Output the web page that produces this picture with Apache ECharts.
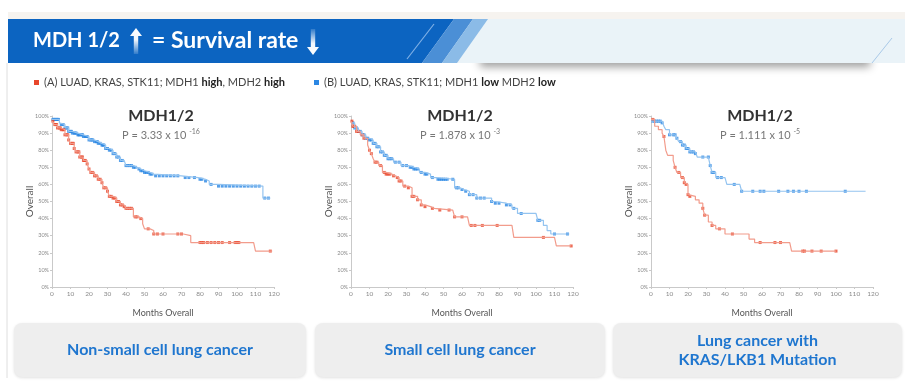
<!DOCTYPE html>
<html><head><meta charset="utf-8">
<script src="https://cdn.jsdelivr.net/npm/echarts@6/dist/echarts.min.js"></script>
<style>html,body{margin:0;padding:0;background:#fff}#c{width:905px;height:390px}</style>
</head><body><div id="c"></div>
<script>
// ---------- DATA ----------
const xTickValues = [0, 10, 20, 30, 40, 50, 60, 70, 80, 90, 100, 110, 120];
const yTickValues = [0, 10, 20, 30, 40, 50, 60, 70, 80, 90, 100];
const panelTitles = ['MDH1/2', 'MDH1/2', 'MDH1/2'];
const pMantissa = ['3.33', '1.878', '1.111'];
const pExponent = ['-16', '-3', '-5'];
const cancerTypes = ['Non-small cell lung cancer', 'Small cell lung cancer', 'Lung cancer with\nKRAS/LKB1 Mutation'];
const groupA = '(A) LUAD, KRAS, STK11; MDH1 {b|high}, MDH2 {b|high}';
const groupB = '(B) LUAD, KRAS, STK11; MDH1 {b|low} MDH2 {b|low}';

// Panel 1: Non-small cell lung cancer  [month, survival %]
const nsclcHighSteps = [[0,97],[1,95],[3,93],[5,92],[7,89],[9,86],[10,84],[12,81],[13,79],[15,76],[17,74],[19,72],[20,69],[21,67],[23,65],[25,63],[27,61],[28,58],[30,56],[31,53],[33,52],[35,50],[37,48],[39,47],[40,46],[44,41],[47,40],[49,37],[50,34],[53,33],[55,31],[71,31],[72,30],[75,26],[109,26],[110,21],[119,21]];
const nsclcHighCensor = [0.5,1.5,2,2.5,3,4,4.5,5,6,6.5,7,8,8.5,9,10,11,11.5,12,13,14,14.5,15,16,16.5,17,17.5,18,19,20,21,22,23,24,25,26,27,28,29,30,31,32,33,34,35,36,37,38,39,40,41,42,43,45,46,48,52,55,57,60,68,70,80,81,82,84,86,88,90,92,96,99,100,101,118];
const nsclcLowSteps = [[0,98],[4,96],[5,95],[7,93],[9,91],[11,90],[14,89],[17,88],[20,86],[23,85],[25,84],[27,83],[29,81],[31,80],[33,78],[35,76],[37,74],[39,73],[40,71],[44,70],[46,69],[48,68],[50,67],[53,66],[55,65],[70,64],[79,63],[83,62],[85,60],[90,59],[114,52],[118,52]];
const nsclcLowCensor = [0.5,1,1.5,2,2.5,3,3.5,5,6,7,8,8.5,9,10,10.5,11,12,12.5,13,14,14.5,15,16,16.5,17,18,18.5,19,20,21,21.5,22,23,24,24.5,25,26,27,27.5,28,29,30,31,32,33,34,35,36,37,38,40,41,42,43,44,45,47,48,49,50,51,52,53,54,56,58,60,62,64,66,68,72,74,77,80,81,83,86,90,92,94,96,98,100,102,104,106,108,110,112,115,117];

// Panel 2: Small cell lung cancer
const sclcHighSteps = [[0,97],[1,94],[3,91],[5,89],[7,87],[9,83],[10,80],[11,78],[12,75],[13,73],[15,71],[17,67],[19,66],[22,65],[24,64],[26,62],[28,59],[31,58],[33,53],[36,51],[38,48],[40,47],[43,46],[45,45],[55,45],[56,41],[63,41],[64,36],[87,36],[88,29],[110,29],[111,24],[119,24]];
const sclcHighCensor = [0.5,1,1.5,2,3,4,6,7,10,11,13,14,16,18,19,20,21,23,25,26,27,29,31,33,34,36,38,40,44,48,53,56,60,65,67,71,79,104,119];
const sclcLowSteps = [[0,96],[2,93],[4,91],[6,89],[8,87],[10,86],[12,84],[14,82],[16,79],[18,77],[20,75],[23,73],[27,71],[31,70],[34,69],[37,67],[40,66],[43,64],[46,63],[56,58],[59,57],[61,56],[64,54],[68,52],[76,50],[78,49],[84,48],[87,46],[90,43],[100,42],[101,39],[104,36],[106,33],[108,31],[118,31]];
const sclcLowCensor = [1,2,3,4,5,6,7,8,9,10,11,12,13,14,15,16,17,18,19,20,21,22,24,26,28,30,32,33,34,35,36,38,40,41,44,47,48,49,50,51,52,55,57,58,60,62,64,66,68,70,72,76,78,80,84,86,88,92,101,102,110,117];

// Panel 3: Lung cancer with KRAS/LKB1 mutation
const krasHighSteps = [[0,98],[2,94],[4,92],[6,90],[7,88],[8,80],[9,77],[12,74],[13,70],[14,67],[16,64],[18,61],[19,60],[20,54],[21,53],[24,51],[26,49],[28,46],[29,42],[31,38],[33,36],[35,34],[40,31],[51,31],[53,28],[56,26],[75,26],[76,21],[100,21]];
const krasHighCensor = [1,7,13,15,17,18,19,20,21,28,29,33,37,44,59,67,70,82,83,87,92,100];
const krasLowSteps = [[0,97],[6,96],[7,94],[8,92],[10,89],[13,89],[14,87],[15,85],[17,83],[19,81],[21,79],[24,78],[25,76],[31,76],[32,71],[33,67],[35,64],[40,63],[41,60],[48,60],[49,56],[116,56]];
const krasLowCensor = [1,2,3,4,5,6,10,12,13,14,16,17,18,19,20,21,22,23,24,28,31,32,33,34,36,38,45,49,55,59,61,69,74,77,80,84,105];

// ---------- STYLE ----------
const FONT = 'Lato, "Open Sans", sans-serif';
const redMark = '#e8462b', redLine = '#f29c8c';
const blueMark = '#2b87e3', blueLine = '#94c4f0';

const panels = [
  { left: 52,  high: nsclcHighSteps, highC: nsclcHighCensor, low: nsclcLowSteps, lowC: nsclcLowCensor },
  { left: 351, high: sclcHighSteps,  highC: sclcHighCensor,  low: sclcLowSteps,  lowC: sclcLowCensor },
  { left: 651, high: krasHighSteps,  highC: krasHighCensor,  low: krasLowSteps,  lowC: krasLowCensor }
];
const GW = 222, GT = 116, GH = 171;

function survivalAt(steps, m) {
  let v = steps[0][1];
  for (const [x, y] of steps) { if (x <= m) v = y; else break; }
  return v;
}

const grid = [], xAxis = [], yAxis = [], series = [], graphic = [];
panels.forEach((p, i) => {
  grid.push({ left: p.left, top: GT, width: GW, height: GH });
  xAxis.push({
    type: 'value', gridIndex: i, min: 0, max: 120, interval: 10,
    name: 'Months Overall', nameLocation: 'middle', nameGap: 22,
    nameTextStyle: { fontFamily: FONT, fontSize: 9, color: '#555' },
    axisLine: { lineStyle: { color: '#c9c9c9' } },
    axisTick: { length: 2, lineStyle: { color: '#c9c9c9' } },
    axisLabel: { fontFamily: FONT, fontSize: 6.5, color: '#8a8a8a', margin: 3,
      formatter: v => xTickValues.includes(v) ? String(v) : '' },
    splitLine: { show: false }
  });
  yAxis.push({
    type: 'value', gridIndex: i, min: 0, max: 100, interval: 10,
    name: 'Overall', nameLocation: 'middle', nameGap: 17, nameMoveOverlap: false,
    nameTextStyle: { fontFamily: FONT, fontSize: 10, color: '#555' },
    axisLine: { show: true, lineStyle: { color: '#c9c9c9' } },
    axisTick: { show: true, length: 2, lineStyle: { color: '#c9c9c9' } },
    axisLabel: { fontFamily: FONT, fontSize: 5.5, color: '#8a8a8a', margin: 3,
      formatter: v => yTickValues.includes(v) ? v + '%' : '' },
    splitLine: { show: false }
  });
  const groups = [
    { name: 'B', steps: p.low, censor: p.lowC, mark: blueMark, line: blueLine },
    { name: 'A', steps: p.high, censor: p.highC, mark: redMark, line: redLine }
  ];
  groups.forEach(g => {
    series.push({
      name: g.name, type: 'line', xAxisIndex: i, yAxisIndex: i, step: 'end',
      data: g.steps, showSymbol: false, silent: true,
      itemStyle: { color: g.mark }, lineStyle: { color: g.line, width: 1.2 }
    });
    series.push({
      name: g.name, type: 'scatter', xAxisIndex: i, yAxisIndex: i,
      data: g.censor.map(m => [m, survivalAt(g.steps, m)]),
      symbol: 'rect', symbolSize: 3, silent: true,
      itemStyle: { color: g.mark }
    });
  });
  const cx = p.left + GW / 2 - 2;
  graphic.push({ type: 'text', x: cx, y: 116, z: 10,
    style: { text: panelTitles[i], align: 'center', verticalAlign: 'middle',
      font: 'bold 16px ' + FONT, fill: '#333' } });
  graphic.push({ type: 'text', x: cx, y: 135, z: 10,
    style: { text: '{n|P = ' + pMantissa[i] + ' x 10 }{s|' + pExponent[i] + '}',
      align: 'center', verticalAlign: 'middle',
      rich: {
        n: { fontFamily: FONT, fontSize: 11, fill: '#777', lineHeight: 14 },
        s: { fontFamily: FONT, fontSize: 7, fill: '#777', lineHeight: 14, verticalAlign: 'top' }
      } } });
});

// Bottom category boxes
const boxes = [[14, 292], [315, 290], [613, 289]];
boxes.forEach((b, i) => {
  graphic.push({ type: 'rect', z: 1,
    shape: { x: b[0], y: 323, width: b[1], height: 54, r: 8 },
    style: { fill: '#eeeeee', shadowBlur: 3, shadowOffsetY: 1, shadowColor: 'rgba(0,0,0,0.12)' } });
  graphic.push({ type: 'text', z: 2, x: b[0] + b[1] / 2, y: 350,
    style: { text: cancerTypes[i], align: 'center', verticalAlign: 'middle',
      font: 'bold 16px ' + FONT, fill: '#1f76cf', lineHeight: 19 } });
});

// Header banner
graphic.push(
  { type: 'rect', z: 0, shape: { x: 8, y: 12, width: 897, height: 7 }, style: { fill: '#f6f3ef' } },
  { type: 'line', z: 0, shape: { x1: 7, y1: 63, x2: 7, y2: 378 }, style: { stroke: '#dedede', lineWidth: 1 } },
  { type: 'rect', z: 1, shape: { x: 480, y: 50, width: 390, height: 13 },
    style: { fill: '#eaf3f8', shadowBlur: 9, shadowOffsetY: 4, shadowColor: 'rgba(0,0,0,0.38)' } },
  { type: 'rect', z: 2, shape: { x: 8, y: 19, width: 897, height: 44 }, style: { fill: '#eaf3f8' } },
  { type: 'polygon', z: 3, shape: { points: [[8,19],[454,19],[422,63],[8,63]] }, style: { fill: '#0c64c1' } },
  { type: 'polygon', z: 3, shape: { points: [[454,19],[473,19],[442,63],[422,63]] }, style: { fill: '#4b8fd6' } },
  { type: 'polygon', z: 3, shape: { points: [[473,19],[488,19],[457,63],[442,63]] }, style: { fill: '#8bbbe7' } },
  { type: 'line', z: 4, shape: { x1: 434, y1: 24, x2: 407, y2: 59 }, style: { stroke: '#7fb0e6', lineWidth: 1.2 } },
  { type: 'line', z: 4, shape: { x1: 892, y1: 38, x2: 872, y2: 63 }, style: { stroke: '#a9c9e8', lineWidth: 1 } },
  { type: 'text', z: 5, x: 33, y: 41,
    style: { text: 'MDH 1/2', verticalAlign: 'middle', font: 'bold 20px ' + FONT, fill: '#ffffff' } },
  { type: 'text', z: 5, x: 152, y: 41,
    style: { text: '= Survival rate', verticalAlign: 'middle', font: 'bold 23px ' + FONT, fill: '#ffffff' } },
  { type: 'polygon', z: 5,
    shape: { points: [[136,28],[142,36],[138.2,36],[138.2,54],[133.8,54],[133.8,36],[130,36]] },
    style: { fill: { type: 'linear', x: 0, y: 0, x2: 0, y2: 1,
      colorStops: [{ offset: 0, color: 'rgba(255,255,255,1)' }, { offset: 0.45, color: 'rgba(255,255,255,0.95)' }, { offset: 1, color: 'rgba(255,255,255,0.15)' }] } } },
  { type: 'polygon', z: 5,
    shape: { points: [[313,55],[319,47],[315.2,47],[315.2,29],[310.8,29],[310.8,47],[307,47]] },
    style: { fill: { type: 'linear', x: 0, y: 0, x2: 0, y2: 1,
      colorStops: [{ offset: 0, color: 'rgba(255,255,255,0.15)' }, { offset: 0.55, color: 'rgba(255,255,255,0.95)' }, { offset: 1, color: 'rgba(255,255,255,1)' }] } } }
);

const legendCommon = {
  icon: 'rect', itemWidth: 5, itemHeight: 5, itemGap: 6, selectedMode: false,
  textStyle: { fontFamily: FONT, fontSize: 11, color: '#444',
    rich: { b: { fontFamily: FONT, fontSize: 11, fontWeight: 'bold', color: '#222' } } }
};
const legend = [
  Object.assign({ left: 29, top: 72, data: ['A'], formatter: () => groupA }, legendCommon),
  Object.assign({ left: 309, top: 72, data: ['B'], formatter: () => groupB }, legendCommon)
];

const chart = echarts.init(document.getElementById('c'), null, { renderer: 'canvas' });
chart.setOption({
  animation: false,
  backgroundColor: '#ffffff',
  grid, xAxis, yAxis, series, legend, graphic
});
</script></body></html>
